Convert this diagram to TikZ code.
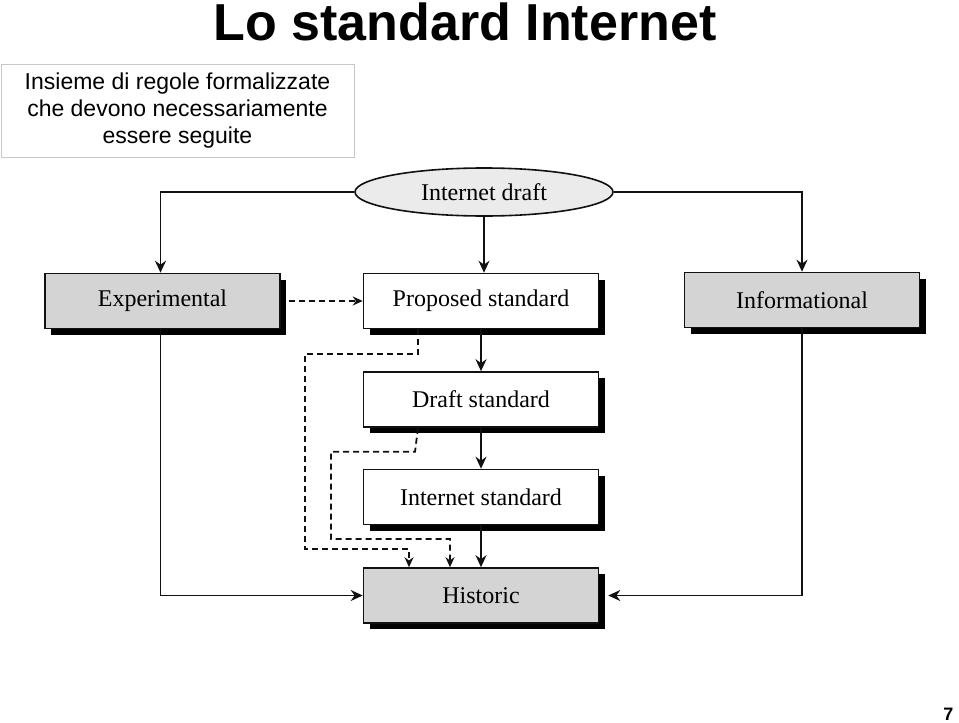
\documentclass[tikz,border=0pt]{standalone}
\usepackage{fontspec}
\setmainfont{Liberation Serif}
\newfontfamily\arialfont{Liberation Sans}
\usetikzlibrary{positioning, arrows.meta, shapes.geometric, shadows}
\definecolor{Ink}{HTML}{111111}
\definecolor{BoxGray}{HTML}{D4D4D4}
\definecolor{DraftGray}{HTML}{EBEBEB}
\definecolor{NoteLine}{HTML}{C8C8C8}
\tikzset{
    stdbox/.style={rectangle, draw=Ink, line width=1.6pt, fill=white, minimum width=235pt, minimum height=55pt, font=\fontsize{24}{28}\selectfont, drop shadow={shadow xshift=6pt, shadow yshift=-6pt, fill=black, opacity=1}},
    graybox/.style={stdbox, fill=BoxGray},
    draftnode/.style={ellipse, draw=Ink, line width=1.6pt, fill=DraftGray, minimum width=258pt, minimum height=48pt, inner sep=0pt, font=\fontsize{24}{28}\selectfont},
    arrow/.style={-{Stealth[length=12pt, width=11pt]}, line width=1.8pt, color=Ink},
    dasharrow/.style={-{Stealth[length=10pt, width=9pt]}, line width=1.8pt, color=Ink, dash pattern=on 6pt off 4pt},
}
\begin{document}
\begin{tikzpicture}[x=1pt, y=-1pt]
        \useasboundingbox (0,0) rectangle (959,723);

        % Title and note
        \node[font=\arialfont\bfseries\fontsize{52}{60}\selectfont, anchor=base] (title) at (465,40) {Lo standard Internet};
        \node[draw=NoteLine, line width=0.8pt, minimum width=353pt, minimum height=93pt, align=center, font=\arialfont\fontsize{23}{27}\selectfont] (note) at (177.5,110.5) {Insieme di regole formalizzate\\che devono necessariamente\\essere seguite};

        % Boxes
        \node[draftnode] (draft) at (484,192) {Internet draft};
        \node[graybox] (exp) at (162.5,301) {Experimental};
        \node[stdbox] (prop) at (481,301) {Proposed standard};
        \node[graybox] (info) at (802,300) {Informational};
        \node[stdbox] (dstd) at (481,399.5) {Draft standard};
        \node[stdbox] (istd) at (481,497) {Internet standard};
        \node[graybox] (hist) at (481,595.5) {Historic};

        % Solid arrows
        \draw[arrow] (draft.west) -| ([xshift=-2pt]exp.north);
        \draw[arrow] (draft.south) -- (draft.south |- prop.north);
        \draw[arrow] (draft.east) -| (info.north);
        \draw[arrow] (prop.south) -- (dstd.north);
        \draw[arrow] (dstd.south) -- (istd.north);
        \draw[arrow] (istd.south) -- (hist.north);
        \draw[arrow] ([xshift=-2pt]exp.south) |- (hist.west);
        \draw[arrow] (info.south) |- ([xshift=9pt]hist.east);

        % Dashed arrows
        \coordinate (bendA) at (305,549);
        \coordinate (bendB) at (331,539);
        \draw[dasharrow] ([xshift=8pt]exp.east) -- (prop.west);
        \draw[dasharrow] ([xshift=-63pt]prop.south) -- ++(0,25) -| (bendA) -| ([xshift=-72pt]hist.north);
        \draw[dasharrow] ([xshift=-63pt]dstd.south) -- ++(-3,24) -| (bendB) -| ([xshift=-31pt]hist.north);

        % Page number
        \node[font=\arialfont\bfseries\fontsize{18}{20}\selectfont, anchor=base east] (pagenum) at (957,720) {7};
    \end{tikzpicture}
\end{document}
